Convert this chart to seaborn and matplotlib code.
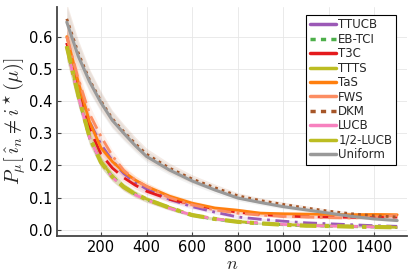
import numpy as np
import pandas as pd
import matplotlib
matplotlib.use("Agg")
import matplotlib.pyplot as plt
import seaborn as sns

# budget n
n = [50, 100, 150, 200, 250, 300, 350, 400, 500, 600, 700, 800, 900, 1000, 1100, 1200, 1300, 1400, 1500]

# estimated error probabilities
ttucb = [0.58, 0.45, 0.335, 0.265, 0.215, 0.175, 0.148, 0.127, 0.095, 0.072, 0.055, 0.040, 0.033, 0.027, 0.022, 0.019, 0.016, 0.013, 0.011]
ebtci = [0.57, 0.415, 0.285, 0.21, 0.165, 0.133, 0.111, 0.094, 0.068, 0.045, 0.033, 0.025, 0.020, 0.016, 0.013, 0.012, 0.010, 0.009, 0.007]
t3c = [0.58, 0.44, 0.315, 0.235, 0.192, 0.162, 0.139, 0.12, 0.095, 0.08, 0.065, 0.055, 0.048, 0.043, 0.041, 0.040, 0.039, 0.038, 0.040]
ttts = [0.57, 0.42, 0.29, 0.212, 0.167, 0.135, 0.113, 0.096, 0.07, 0.047, 0.035, 0.026, 0.021, 0.017, 0.014, 0.012, 0.011, 0.010, 0.008]
tas = [0.60, 0.46, 0.335, 0.255, 0.212, 0.18, 0.155, 0.135, 0.105, 0.083, 0.068, 0.061, 0.052, 0.050, 0.049, 0.048, 0.047, 0.048, 0.047]
fws = [0.60, 0.47, 0.36, 0.29, 0.23, 0.185, 0.155, 0.135, 0.10, 0.078, 0.062, 0.052, 0.046, 0.042, 0.040, 0.038, 0.037, 0.040, 0.045]
dkm = [0.655, 0.55, 0.465, 0.40, 0.345, 0.305, 0.268, 0.235, 0.192, 0.158, 0.131, 0.106, 0.091, 0.079, 0.068, 0.058, 0.050, 0.044, 0.040]
lucb = [0.565, 0.415, 0.285, 0.21, 0.163, 0.131, 0.109, 0.093, 0.067, 0.046, 0.034, 0.026, 0.021, 0.017, 0.014, 0.012, 0.011, 0.009, 0.008]
half_lucb = [0.57, 0.42, 0.288, 0.21, 0.165, 0.133, 0.111, 0.095, 0.069, 0.046, 0.034, 0.025, 0.020, 0.016, 0.013, 0.012, 0.010, 0.009, 0.008]
uniform = [0.645, 0.54, 0.46, 0.395, 0.34, 0.30, 0.262, 0.228, 0.186, 0.152, 0.124, 0.099, 0.085, 0.072, 0.062, 0.052, 0.042, 0.034, 0.029]

names = ["TTUCB", "EB-TCI", "T3C", "TTTS", "TaS", "FWS", "DKM", "LUCB", "1/2-LUCB", "Uniform"]
series = [ttucb, ebtci, t3c, ttts, tas, fws, dkm, lucb, half_lucb, uniform]
colors = ["#9b59b6", "#4daf4a", "#e41a1c", "#bcbd22", "#ff7f0e", "#fc8d62", "#a65628", "#f781bf", "#bcbd22", "#999999"]
styles = [(0, (5, 2, 1, 2)), (0, (1.5, 1.5)), (0, (6, 3)), (0, (4, 2, 1, 2)), "-", (0, (5, 2, 1, 2)),
          (0, (1, 1.5)), (0, (4, 2)), (0, (4, 2, 1, 2)), "-"]
widths = [2, 2, 2, 2, 2, 2, 2, 2, 3, 2.2]
legend_dashed = {"EB-TCI", "DKM"}

df = pd.DataFrame({"n": np.tile(n, len(names)),
                   "p": np.concatenate(series),
                   "algo": np.repeat(names, len(n))})

sns.set_theme(style="whitegrid")
plt.rcParams["font.family"] = ["DejaVu Sans"]
plt.rcParams["mathtext.fontset"] = "cm"

fig = plt.figure(figsize=(4.15, 2.77), dpi=100)
ax = fig.add_axes([0.137, 0.148, 0.844, 0.827])

for name, col, ls, lw in zip(names, colors, styles, widths):
    d = df[df["algo"] == name]
    ax.fill_between(d["n"], d["p"] * 0.93 - 0.002, d["p"] * 1.07 + 0.002, color=col, alpha=0.12, lw=0)
    sns.lineplot(data=d, x="n", y="p", color=col, ls=ls, lw=lw, label=name, ax=ax, errorbar=None)

ax.set_xlim(6.5, 1543.5)
ax.set_ylim(-0.019, 0.692)
ax.set_xticks([200, 400, 600, 800, 1000, 1200, 1400])
ax.set_yticks([0.0, 0.1, 0.2, 0.3, 0.4, 0.5, 0.6])
ax.set_yticklabels(["0.0", "0.1", "0.2", "0.3", "0.4", "0.5", "0.6"])
ax.set_facecolor("white")
ax.grid(True, color="#e6e6e6", lw=0.6)
for side in ["top", "right"]:
    ax.spines[side].set_visible(False)
for side in ["left", "bottom"]:
    ax.spines[side].set_color("#444444")
    ax.spines[side].set_linewidth(1.3)
ax.tick_params(axis="both", direction="in", length=3, width=0.8, color="#444444",
               labelsize=10.5, labelcolor="black", pad=3, left=True, bottom=True)

ax.set_xlabel(r"$n$", fontsize=13, labelpad=0)
ax.set_ylabel(r"$P_\mu[\,\hat{\imath}_n \neq i^\star(\mu)]$", fontsize=14.5, labelpad=1)

leg = ax.legend(loc="upper right", bbox_to_anchor=(0.968, 0.965), fontsize=8.5, frameon=True,
                fancybox=False, edgecolor="black", framealpha=1, labelspacing=0.12,
                handlelength=2.2, handletextpad=0.2, borderpad=0.3, borderaxespad=0)
leg.get_frame().set_linewidth(0.8)
for line, name in zip(leg.get_lines(), names):
    line.set_linestyle((0, (1.5, 1.5)) if name in legend_dashed else "-")
    line.set_linewidth(2.5)

fig.savefig("out.png", dpi=100)
